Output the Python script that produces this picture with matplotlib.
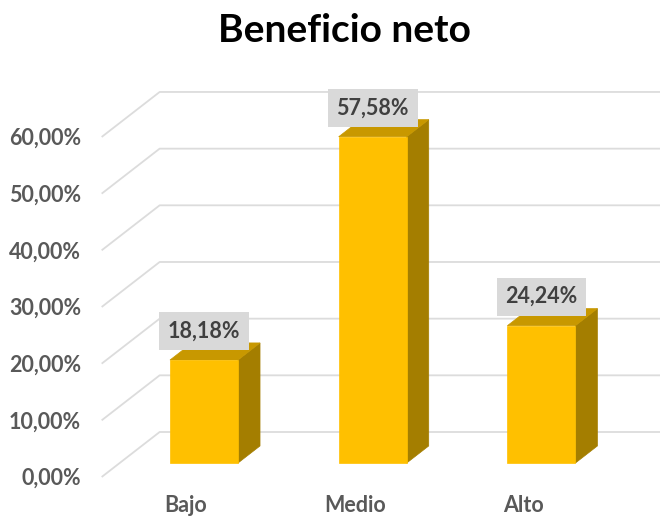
import matplotlib
matplotlib.use("Agg")
import matplotlib.pyplot as plt
from matplotlib.patches import Polygon

categories = ["Bajo", "Medio", "Alto"]
values = [18.18, 57.58, 24.24]
value_labels = ["18,18%", "57,58%", "24,24%"]
ticks = [0, 10, 20, 30, 40, 50, 60]
tick_labels = ["0,00%", "10,00%", "20,00%", "30,00%", "40,00%", "50,00%", "60,00%"]
title = "Beneficio neto"

# geometry (pixel-derived scale)
PX_CAT = 168.7      # pixels per category unit
PX_PCT = 5.667      # pixels per percent
X0_PX = 186.0       # pixel x of category 0 at front plane
Y0_PX = 477.0       # pixel y (from top) of 0% at front plane
W, H = 660, 517
DX = 58.0 / PX_CAT  # depth offset in category units
DY = 45.0 / PX_PCT  # depth offset in percent units

def proj(x, v, d):
    return (x + d * DX, v + d * DY)

fig = plt.figure(figsize=(W / 100, H / 100), dpi=100)
ax = fig.add_axes([0, 0, 1, 1])
ax.set_xlim((0 - X0_PX) / PX_CAT, (W - X0_PX) / PX_CAT)
ax.set_ylim((Y0_PX - H) / PX_PCT, Y0_PX / PX_PCT)
ax.axis("off")

font = "Lato"
grid_col = "#DCDCDC"
for t, lab in zip(ticks, tick_labels):
    p0 = proj(-0.5, t, 0)
    p1 = proj(-0.5, t, 1)
    p2 = proj(3.2, t, 1)
    ax.plot([p0[0], p1[0], p2[0]], [p0[1], p1[1], p2[1]], color=grid_col, lw=1.3,
            solid_capstyle="butt", zorder=1)
    ax.text((81 - X0_PX) / PX_CAT, t - 0.3, lab, ha="right", va="center", fontsize=15.5,
            fontweight="bold", color="#595959", family=font)

bw = 68.0 / PX_CAT
d0, d1 = 0.31, 0.69
front_col, side_col, top_col = "#FFC000", "#A47E00", "#C89800"
for i, (v, lab) in enumerate(zip(values, value_labels)):
    xl, xr = i - bw / 2, i + bw / 2
    front = [proj(xl, 0, d0), proj(xr, 0, d0), proj(xr, v, d0), proj(xl, v, d0)]
    side = [proj(xr, 0, d0), proj(xr, 0, d1), proj(xr, v, d1), proj(xr, v, d0)]
    top = [proj(xl, v, d0), proj(xr, v, d0), proj(xr, v, d1), proj(xl, v, d1)]
    for poly, c in ((side, side_col), (top, top_col), (front, front_col)):
        ax.add_patch(Polygon(poly, closed=True, facecolor=c, edgecolor=c, lw=0.5, zorder=3))
    cx, cy = proj(i, v, d0)
    ax.text(cx, cy + 29 / PX_PCT, lab, ha="center", va="center", fontsize=15.5,
            fontweight="bold", color="#404040", family=font, zorder=5,
            bbox=dict(boxstyle="square,pad=0.4", facecolor="#D9D9D9", edgecolor="none"))
    ax.text(i, (Y0_PX - 505) / PX_PCT, categories[i], ha="center", va="center",
            fontsize=15.5, fontweight="bold", color="#595959", family=font)

fig.text(344 / W, 1 - 30 / H, title, ha="center", va="center", fontsize=28,
         fontweight="bold", color="#000000", family=font)

fig.savefig("out.png", dpi=100, facecolor="white")
